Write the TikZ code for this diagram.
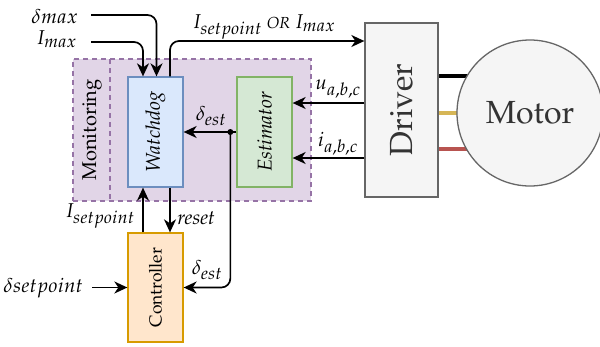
\documentclass[tikz,border=0pt]{standalone}
\usepackage[T1]{fontenc}
\usepackage{mathpazo}
\usetikzlibrary{arrows.meta,backgrounds,calc}
\DeclareMathSizes{20}{20}{17.5}{14}
\definecolor{monF}{HTML}{E1D5E7}
\definecolor{monS}{HTML}{9673A6}
\definecolor{wdF}{HTML}{DAE8FC}
\definecolor{wdS}{HTML}{6C8EBF}
\definecolor{esF}{HTML}{D5E8D4}
\definecolor{esS}{HTML}{82B366}
\definecolor{ctF}{HTML}{FFE6CC}
\definecolor{ctS}{HTML}{D79B00}
\definecolor{grF}{HTML}{F5F5F5}
\definecolor{grS}{HTML}{666666}
\definecolor{grT}{HTML}{333333}
\definecolor{wireY}{HTML}{D6B656}
\definecolor{wireR}{HTML}{B85450}
\begin{document}
\begin{tikzpicture}[x=1pt,y=-1pt,
  lbl/.style={font=\fontsize{20}{24}\selectfont, inner sep=0pt},
  itl/.style={font=\fontsize{20}{24}\selectfont\itshape, inner sep=0pt},
  box/.style={draw, line width=1.3pt, minimum width=55pt, minimum height=110pt, inner sep=0pt},
  conn/.style={line width=1.7pt, -{Stealth[length=13pt,width=12pt,inset=4pt]}, rounded corners=9pt},
  wire/.style={line width=3.2pt}]
\useasboundingbox (0,0) rectangle (600,346);

% monitoring group
\node[draw=monS, fill=monF, line width=1.2pt, dash pattern=on 5pt off 4pt,
      minimum width=238pt, minimum height=142pt, inner sep=0pt] (mon) at (192,130) {};
\coordinate (divtop) at (110,59);
\draw[monS, line width=1.2pt, dash pattern=on 5pt off 4pt] (divtop) -- (divtop |- mon.south);
\node[lbl, rotate=90] (montxt) at (92,130) {Monitoring};

% blocks
\node[box, draw=wdS, fill=wdF] (wd) at (155.5,132) {};
\node[itl, rotate=90] (wdtxt) at (wd.center) {Watchdog};
\node[box, draw=esS, fill=esF] (est) at (264.5,132) {};
\node[itl, rotate=90] (esttxt) at (est.center) {Estimator};
\node[box, draw=ctS, fill=ctF, minimum height=109pt] (ctrl) at (155.5,287.5) {};
\node[inner sep=0pt, font=\fontsize{17.5}{20}\selectfont, rotate=90] (cttxt) at (ctrl.center) {Controller};
\node[draw=grS, fill=grF, line width=1.3pt, minimum width=73pt, minimum height=174pt, inner sep=0pt] (drv) at (401.5,110) {};
\node[inner sep=0pt, text=grT, font=\fontsize{32}{36}\selectfont, rotate=90] (drvtxt) at (drv.center) {Driver};
\node[draw=grS, fill=grF, line width=1.3pt, circle, minimum size=146pt, inner sep=0pt,
      text=grT, font=\fontsize{32}{36}\selectfont] (motor) at (530,113) {Motor};

% phase wires
\begin{scope}[on background layer]
  \draw[wire, black] (drv.east |- 0,76) -- (motor.center |- 0,76);
  \draw[wire, wireY] (drv.east |- 0,113) -- (motor.center);
  \draw[wire, wireR] (drv.east |- 0,149) -- (motor.center |- 0,149);
\end{scope}

% inputs of the watchdog
\node[lbl, anchor=east] (dmax) at (78,16) {$\delta max$};
\node[lbl, anchor=east] (imax) at (77,39) {$I_{max}$};
\coordinate (wdinA) at ($(wd.north)+(1,0)$);
\coordinate (wdinB) at ($(wd.north)+(-12.5,0)$);
\coordinate (wdout) at ($(wd.north)+(14.5,0)$);
\draw[conn] ([xshift=13pt]dmax.east |- 0,15) -| (wdinA);
\draw[conn] ([xshift=14pt]imax.east |- 0,42) -| (wdinB);

% current command to the driver
\draw[conn] (wdout) |- (drv.west |- 0,41);
\node[lbl] (cmd) at (264,27) {$I_{setpoint}$ {\fontsize{16}{18}\selectfont\itshape OR} $I_{max}$};

% measurements to the estimator
\draw[conn] (drv.west |- 0,103) -- (est.east |- 0,103);
\node[lbl] (ulbl) at (338,89) {$u_{a,b,c}$};
\draw[conn] (drv.west |- 0,158) -- (est.east |- 0,158);
\node[lbl] (ilbl) at (338,144) {$i_{a,b,c}$};

% estimated angle
\coordinate (dot) at ($(est.west)+(-6,0)$);
\draw[conn] (est.west) -- (wd.east);
\fill (dot) circle (3pt);
\node[lbl] (destA) at (211,116) {$\delta_{est}$};
\draw[conn] (dot) |- (ctrl.east);
\node[lbl] (destB) at (207,270) {$\delta_{est}$};

% controller and watchdog exchange
\draw[conn] ($(ctrl.north)+(-12.5,0)$) -- ($(wd.south)+(-12.5,0)$);
\node[lbl] (isp) at (100,216) {$I_{setpoint}$};
\draw[conn] ($(wd.south)+(14.5,0)$) -- ($(ctrl.north)+(14.5,0)$);
\node[itl] (rst) at (196,218) {reset};

% setpoint input
\node[lbl, anchor=east] (dsp) at (83,288) {$\delta setpoint$};
\draw[conn] ([xshift=9pt]dsp.east |- ctrl.west) -- (ctrl.west);
\end{tikzpicture}
\end{document}
